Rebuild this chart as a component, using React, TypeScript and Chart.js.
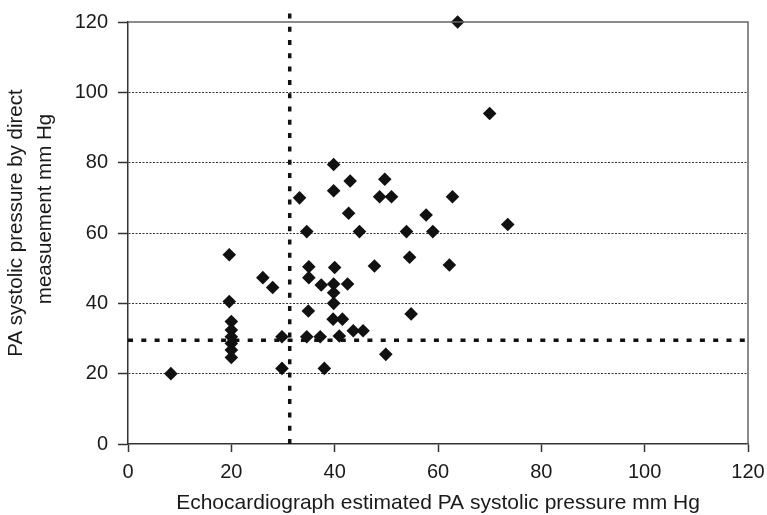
import React, { useEffect, useRef } from "react";
import { Chart, registerables } from "chart.js";
Chart.register(...registerables);

// Echocardiograph estimated PA systolic pressure (mm Hg)
const echoX = [
  8.3, 19.6, 19.6, 20, 20, 20, 20, 20, 20, 26.1, 28, 29.8, 29.8, 33.2, 34.6, 35, 35, 34.9,
  34.6, 37.4, 37.2, 38, 39.8, 39.8, 40, 39.8, 39.8, 39.8, 39.7, 40.9, 41.5, 42.5, 42.7, 43,
  43.6, 44.8, 45.5, 47.7, 48.7, 49.7, 49.9, 51, 53.9, 54.5, 54.8, 57.7, 59, 62.2, 62.8, 63.8,
  70, 73.5,
];
// PA systolic pressure by direct measurement (mm Hg)
const directY = [
  20, 53.8, 40.5, 34.8, 32.4, 30.5, 28.6, 26.7, 24.6, 47.3, 44.5, 30.5, 21.5, 70, 60.4, 50.4,
  47.3, 37.8, 30.5, 45.2, 30.5, 21.5, 79.5, 72, 50.2, 45.5, 43, 40, 35.5, 30.7, 35.5, 45.5,
  65.6, 74.8, 32.2, 60.4, 32.2, 50.6, 70.3, 75.3, 25.5, 70.3, 60.4, 53.1, 37, 65.1, 60.4, 50.9,
  70.3, 120, 94, 62.4,
];

// Cut-off reference lines
const refEchoX = 31.3;
const refDirectY = 29.5;
const refVerticalTop = 124;

const axisMin = 0;
const axisMax = 120;
const axisStep = 20;

const xTitle = "Echocardiograph estimated PA systolic pressure mm Hg";
const yTitleLines = ["PA systolic pressure by direct", "measuement mm Hg"];

const FONT = "'Liberation Sans', Arial, Helvetica, sans-serif";
const TEXT = "#1a1a1a";

export default function App() {
  const ref = useRef<HTMLCanvasElement | null>(null);

  useEffect(() => {
    const canvas = ref.current;
    if (!canvas) return;

    const framePlugin = {
      id: "frame",
      afterDatasetsDraw(chart: any) {
        const { ctx, chartArea } = chart;
        ctx.save();
        ctx.strokeStyle = "#666";
        ctx.lineWidth = 1.5;
        ctx.setLineDash([]);
        ctx.beginPath();
        ctx.moveTo(chartArea.left, chartArea.top);
        ctx.lineTo(chartArea.right, chartArea.top);
        ctx.lineTo(chartArea.right, chartArea.bottom);
        ctx.stroke();
        ctx.restore();
      },
    };

    const yTitlePlugin = {
      id: "yTitle",
      afterDraw(chart: any) {
        const { ctx } = chart;
        const pos = [
          { x: 16, y: 223 },
          { x: 45, y: 209 },
        ];
        ctx.save();
        ctx.fillStyle = TEXT;
        ctx.font = `20.5px ${FONT}`;
        ctx.textAlign = "center";
        ctx.textBaseline = "middle";
        yTitleLines.forEach((line, i) => {
          ctx.save();
          ctx.translate(pos[i].x, pos[i].y);
          ctx.rotate(-Math.PI / 2);
          ctx.fillText(line, 0, 0);
          ctx.restore();
        });
        ctx.restore();
      },
    };

    const points = echoX.map((x, i) => ({ x, y: directY[i] }));

    const chart = new Chart(canvas, {
      type: "scatter",
      data: {
        datasets: [
          {
            type: "scatter",
            data: points,
            pointStyle: "rectRot",
            pointRadius: 6.8,
            pointHoverRadius: 6.8,
            backgroundColor: "#111",
            borderColor: "#111",
            borderWidth: 0,
            clip: false,
          } as any,
          {
            type: "line",
            data: [
              { x: refEchoX, y: axisMin },
              { x: refEchoX, y: refVerticalTop },
            ],
            borderColor: "#111",
            borderWidth: 3.5,
            borderDash: [5, 8.3],
            pointRadius: 0,
            fill: false,
            clip: false,
          } as any,
          {
            type: "line",
            data: [
              { x: axisMin, y: refDirectY },
              { x: axisMax, y: refDirectY },
            ],
            borderColor: "#111",
            borderWidth: 3.5,
            borderDash: [5, 8.3],
            pointRadius: 0,
            fill: false,
            clip: false,
          } as any,
        ],
      },
      options: {
        animation: false,
        responsive: false,
        events: [],
        layout: { padding: { top: 22, right: 19, left: 0, bottom: 0 } },
        plugins: {
          legend: { display: false },
          tooltip: { enabled: false },
        },
        scales: {
          x: {
            type: "linear",
            min: axisMin,
            max: axisMax,
            afterFit: (s: any) => {
              s.height = 71;
              s.paddingLeft = 0;
              s.paddingRight = 0;
            },
            ticks: {
              stepSize: axisStep,
              color: TEXT,
              font: { family: FONT, size: 20 },
              padding: 8,
            },
            grid: {
              drawOnChartArea: false,
              drawTicks: true,
              tickLength: 8,
              tickColor: "#333",
              tickWidth: 1.5,
            },
            border: { color: "#333", width: 1.5 },
            title: {
              display: true,
              text: xTitle,
              color: TEXT,
              font: { family: FONT, size: 21 },
              padding: { top: 0, bottom: -1 },
            },
          },
          y: {
            type: "linear",
            min: axisMin,
            max: axisMax,
            afterFit: (s: any) => {
              s.width = 128;
            },
            ticks: {
              stepSize: axisStep,
              color: TEXT,
              font: { family: FONT, size: 20 },
              padding: 10,
            },
            grid: {
              color: (c: any) =>
                c.tick && (c.tick.value === axisMin || c.tick.value === axisMax)
                  ? "rgba(0,0,0,0)"
                  : "#333",
              lineWidth: 1,
              tickLength: 10,
              tickColor: "#333",
              tickWidth: 1.5,
              tickBorderDash: [],
            },
            border: { color: "#333", width: 1.5, dash: [2, 1.5] },
          },
        },
      } as any,
      plugins: [framePlugin, yTitlePlugin],
    });

    return () => chart.destroy();
  }, []);

  return (
    <div style={{ position: "absolute", left: 0, top: 0, width: 767, height: 515 }}>
      <canvas ref={ref} width={767} height={515} style={{ display: "block" }} />
    </div>
  );
}
